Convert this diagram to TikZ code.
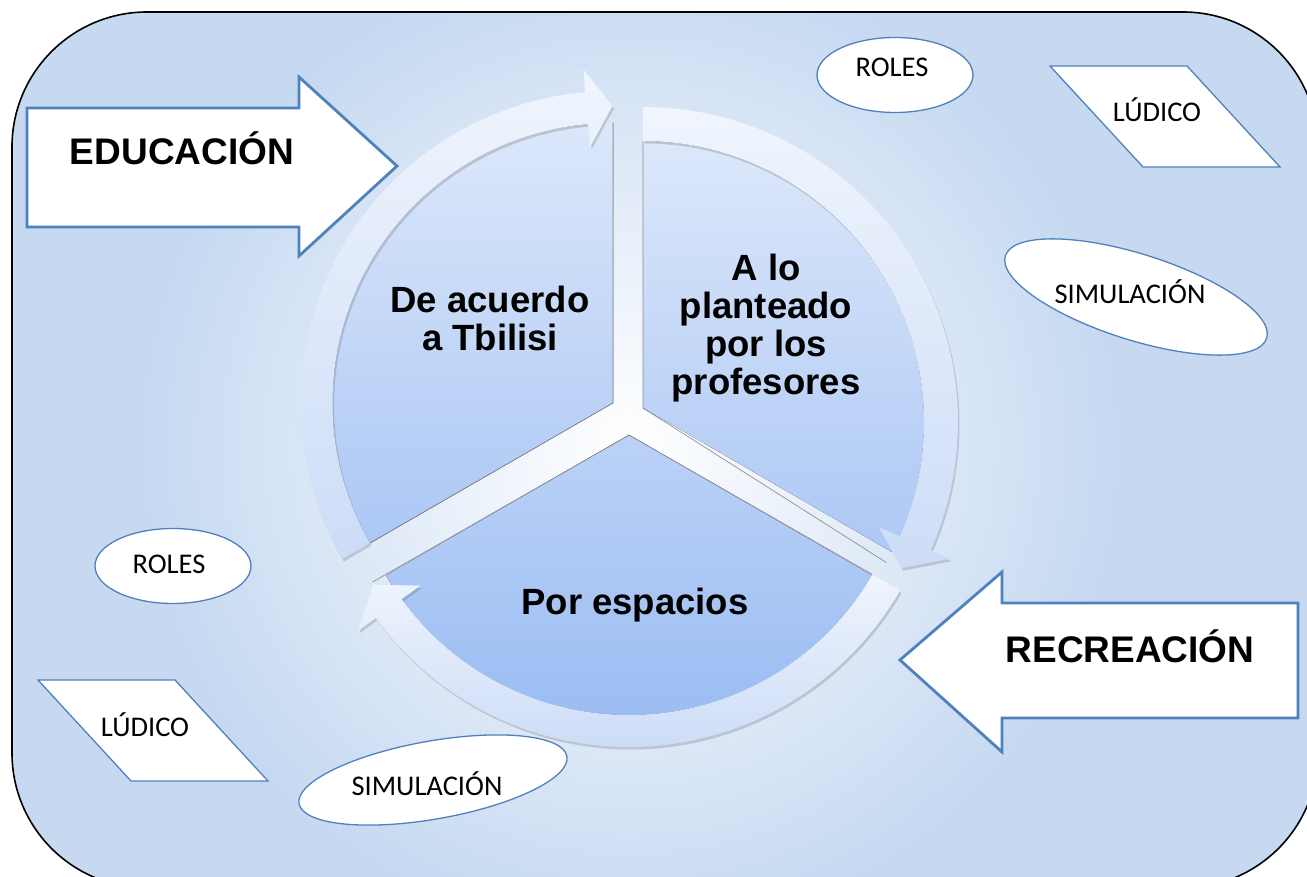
\documentclass[tikz,border=0pt]{standalone}
\usepackage{fontspec}
\setmainfont{Liberation Sans}
\newfontfamily\calib{Carlito}
\usetikzlibrary{shapes.geometric,shadows,calc}
\definecolor{bgblue}{HTML}{C6D9F1}
\definecolor{accent}{HTML}{4F81BD}
\definecolor{segtop}{HTML}{DCE7FA}
\definecolor{segbot}{HTML}{9BBDF3}
\definecolor{arrtop}{HTML}{F0F5FD}
\definecolor{arrbot}{HTML}{CDDCF7}
\tikzset{
  segedge/.style={draw=black!60, line width=0.7pt, opacity=0.7},
  ringarrow/.style={top color=arrtop, bottom color=arrbot,
    drop shadow={shadow xshift=1.5pt, shadow yshift=-2.5pt, opacity=0.22, fill=black!70}},
  bigarrow/.style={draw=accent, fill=white, line width=2.8pt, line join=miter},
  bigtext/.style={font=\bfseries\fontsize{37}{39}\selectfont, inner sep=0pt, text=black},
  midtext/.style={font=\bfseries\fontsize{36.5}{38}\selectfont, inner sep=0pt, align=center, text=black},
  smallshape/.style={draw=accent, fill=white, line width=1.3pt},
  smalltext/.style={font=\calib\fontsize{28.5}{31}\selectfont, inner sep=0pt, text=black},
}
\begin{document}
\begin{tikzpicture}[x=1pt,y=-1pt]
\useasboundingbox (0,0) rectangle (1307,877);
% background panel
\begin{scope}
  \clip[rounded corners=135pt] (12,12) rectangle (1318,888);
  \fill[bgblue] (0,0) rectangle (1320,890);
  \shade[inner color=white, outer color=bgblue] (630,445) circle (490);
\end{scope}
\draw[line width=1.6pt, rounded corners=135pt] (12,12) rectangle (1318,888);

% ---- segments ----
% left segment
\begin{scope}[shift={(612.5,403)}]
  \begin{scope}
    \clip (0.5,0) -- (0.5,-400) -- (-502,-400) -- (-502,290) -- cycle;
    \fill[top color=segtop, bottom color=segbot] (0,0) circle (280);
  \end{scope}
  \draw[segedge] (0.5,-280) -- (0.5,0) -- (150:280);
\end{scope}
% right segment
\begin{scope}[shift={(643,422)}]
  \begin{scope}
    \clip (0,-14) -- (0,-400) -- (500,-400) -- (500,275) -- cycle;
    \fill[top color=segtop, bottom color=segbot] (0,0) circle (281);
  \end{scope}
  \draw[segedge] (0,-281) -- (0,-14) -- (30:281);
\end{scope}
% bottom segment
\begin{scope}[shift={(629,434)}]
  \begin{scope}
    \clip (0,1) -- (-500,290) -- (-500,400) -- (500,400) -- (500,290) -- cycle;
    \fill[top color=segtop, bottom color=segbot] (0,0) circle (281);
  \end{scope}
  \draw[segedge] (150:296) -- (0,1) -- (30:281);
\end{scope}

% ---- ring arrows ----
\begin{scope}[shift={(612.5,403)}]
  \path[ringarrow] (150:280) -- (150:312) arc[start angle=150, end angle=265, radius=312]
    -- (265:335) -- (270:297) -- (265:257) -- (265:280)
    arc[start angle=265, end angle=150, radius=280] -- cycle;
\end{scope}
\begin{scope}[shift={(643,422)}]
  \path[ringarrow] (-90:281) -- (-90:315) arc[start angle=-90, end angle=24, radius=315]
    -- (24:336) -- (29.5:297) -- (24:258) -- (24:281)
    arc[start angle=24, end angle=-90, radius=281] -- cycle;
\end{scope}
\begin{scope}[shift={(629,434)}]
  \path[ringarrow] (30:281) -- (30:313) arc[start angle=30, end angle=144, radius=313]
    -- (144:335) -- (149.5:297) -- (144:258) -- (144:281)
    arc[start angle=144, end angle=30, radius=281] -- cycle;
\end{scope}

% ---- segment texts ----
\node[midtext] (tbilisi) at (490,318) {De acuerdo\\a Tbilisi};
\node[midtext] (profes) at (766,328) {A lo\\planteado\\por los\\profesores};
\node[midtext, anchor=base] (espacios) at (635,614) {Por espacios};

% ---- big arrows ----
\draw[bigarrow] (27,108) -- (299,108) -- (299,77) -- (397,166) -- (299,256) -- (299,227) -- (27,227) -- cycle;
\node[bigtext, anchor=base] (edu) at (182,165) {EDUCACIÓN};
\draw[bigarrow] (1298,603) -- (1002,603) -- (1002,572) -- (900,660) -- (1002,752) -- (1002,718) -- (1298,718) -- cycle;
\node[bigtext, anchor=base] (rec) at (1130,662) {RECREACIÓN};

% ---- small shapes ----
\node[smallshape, ellipse, minimum width=156pt, minimum height=75pt, inner sep=0pt] (roles1) at (895,75) {};
\node[smalltext, anchor=base] (roles1t) at (892,77) {ROLES};
\node[smallshape, ellipse, minimum width=156pt, minimum height=75pt, inner sep=0pt] (roles2) at (173,566) {};
\node[smalltext, anchor=base] (roles2t) at (169,573) {ROLES};

\draw[smallshape] (1050,66) -- (1187,66) -- (1280,167) -- (1143,167) -- cycle;
\node[smalltext, anchor=base] (ludico1) at (1157,122) {LÚDICO};
\draw[smallshape] (38,680) -- (175,680) -- (268,781) -- (131,781) -- cycle;
\node[smalltext, anchor=base] (ludico2) at (145,736) {LÚDICO};

\node[smallshape, ellipse, minimum width=274pt, minimum height=86pt, inner sep=0pt, rotate=-17.5] (sim1) at (1136,297) {};
\node[smalltext, anchor=base] (sim1t) at (1130,304) {SIMULACIÓN};
\node[smallshape, ellipse, minimum width=272pt, minimum height=78pt, inner sep=0pt, rotate=10] (sim2) at (433,780) {};
\node[smalltext, anchor=base] (sim2t) at (427,795) {SIMULACIÓN};
\end{tikzpicture}
\end{document}
